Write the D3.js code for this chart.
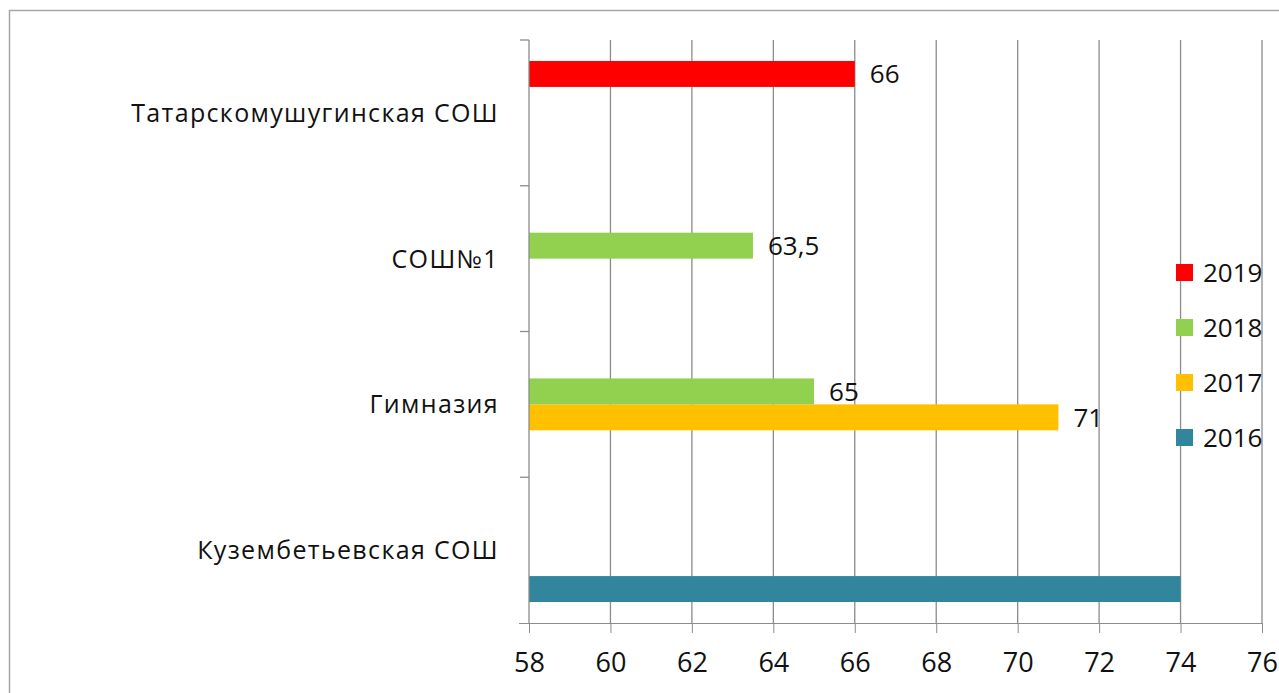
<!DOCTYPE html>
<html>
<head>
<meta charset="utf-8">
<script src="https://cdn.jsdelivr.net/npm/d3@7"></script>
<style>
  body { margin: 0; background: #fff; }
  svg { display: block; font-family: "Open Sans", sans-serif; }
  .axis path, .axis line { stroke: #8c8c8c; }
  .axis text { font-size: 27px; fill: #111; font-family: "Open Sans", sans-serif; }
</style>
</head>
<body>
<div id="chart"></div>
<script>
// categories from top to bottom
var categories = ["Татарскомушугинская СОШ", "СОШ№1", "Гимназия", "Кузембетьевская СОШ"];
var years = ["2016", "2017", "2018", "2019"];
var colors = ["#31859c", "#ffc000", "#92d050", "#ff0000"];

// values in the same order as categories; null = no bar
var values2016 = [null, null, null, 74];
var values2017 = [null, null, 71, null];
var values2018 = [null, 63.5, 65, null];
var values2019 = [66, null, null, null];
var xTicks = [58, 60, 62, 64, 66, 68, 70, 72, 74, 76];
// the 74 label is not shown on the original
var hiddenLabels = ["2016|Кузембетьевская СОШ"];

var seriesValues = [values2016, values2017, values2018, values2019];

var width = 1279, height = 693;
var margin = {top: 40, right: 17, bottom: 70, left: 529};

var svg = d3.select("#chart").append("svg")
    .attr("width", width)
    .attr("height", height);

// frame of the chart area
svg.append("rect")
    .attr("x", 9.5).attr("y", 10.5)
    .attr("width", width + 10).attr("height", height + 10)
    .attr("fill", "none")
    .attr("stroke", "#a6a6a6")
    .attr("stroke-width", 1.5);

var x = d3.scaleLinear().domain([58, 76]).range([margin.left, width - margin.right]);
var y = d3.scaleBand().domain(categories).range([margin.top, height - margin.bottom]);
// inside a category: 2016 at the bottom, 2019 at the top
var yInner = d3.scaleBand().domain(years.slice().reverse())
    .range([y.bandwidth() * 0.144, y.bandwidth() * 0.856]);

// vertical gridlines
svg.append("g").selectAll("line")
    .data(xTicks.slice(1))
    .join("line")
    .attr("x1", d => x(d)).attr("x2", d => x(d))
    .attr("y1", margin.top).attr("y2", height - margin.bottom)
    .attr("stroke", "#8c8c8c")
    .attr("stroke-width", 1.3);

// bars
years.forEach((yr, i) => {
  var rows = categories.map((c, j) => ({cat: c, v: seriesValues[i][j]})).filter(d => d.v != null);
  svg.append("g").selectAll("rect")
      .data(rows)
      .join("rect")
      .attr("x", x(58))
      .attr("y", d => y(d.cat) + yInner(yr))
      .attr("width", d => x(d.v) - x(58))
      .attr("height", yInner.bandwidth())
      .attr("fill", colors[i]);

  svg.append("g").selectAll("text")
      .data(rows.filter(d => hiddenLabels.indexOf(yr + "|" + d.cat) < 0))
      .join("text")
      .attr("x", d => x(d.v) + 15)
      .attr("y", d => y(d.cat) + yInner(yr) + yInner.bandwidth() / 2)
      .attr("dy", "0.36em")
      .attr("font-size", 26)
      .attr("fill", "#111")
      .text(d => String(d.v).replace(".", ","));
});

// x axis
svg.append("g")
    .attr("class", "axis")
    .attr("transform", "translate(0," + (height - margin.bottom) + ")")
    .call(d3.axisBottom(x).tickValues(xTicks).tickSize(10).tickSizeOuter(0).tickPadding(20))
    .call(g => g.select(".domain").attr("d", "M" + (x(58) - 10) + ",0.5H" + x(76)));

// y axis line with category separators
var yAxis = svg.append("g").attr("class", "axis");
yAxis.append("line")
    .attr("x1", x(58)).attr("x2", x(58))
    .attr("y1", margin.top).attr("y2", height - margin.bottom)
    .attr("stroke", "#8c8c8c").attr("stroke-width", 1.3);
yAxis.selectAll(".sep")
    .data(categories.map(c => y(c)))
    .join("line")
    .attr("class", "sep")
    .attr("x1", x(58) - 9).attr("x2", x(58))
    .attr("y1", d => d).attr("y2", d => d)
    .attr("stroke", "#8c8c8c").attr("stroke-width", 1.3);

// category labels
svg.append("g").selectAll("text")
    .data(categories)
    .join("text")
    .attr("x", x(58) - 30)
    .attr("y", d => y(d) + y.bandwidth() / 2)
    .attr("dy", "0.36em")
    .attr("text-anchor", "end")
    .attr("font-size", 25)
    .attr("letter-spacing", 1.35)
    .attr("fill", "#111")
    .text(d => d);

// legend, 2019 on top
var legend = svg.append("g").attr("transform", "translate(1176,264)");
var legendRows = years.map((yr, i) => ({yr: yr, color: colors[i]})).reverse();
var lg = legend.selectAll("g")
    .data(legendRows)
    .join("g")
    .attr("transform", (d, i) => "translate(0," + i * 55 + ")");
lg.append("rect")
    .attr("width", 17).attr("height", 17)
    .attr("fill", d => d.color);
lg.append("text")
    .attr("x", 27).attr("y", 9)
    .attr("dy", "0.36em")
    .attr("font-size", 26)
    .attr("fill", "#111")
    .text(d => d.yr);
</script>
</body>
</html>
